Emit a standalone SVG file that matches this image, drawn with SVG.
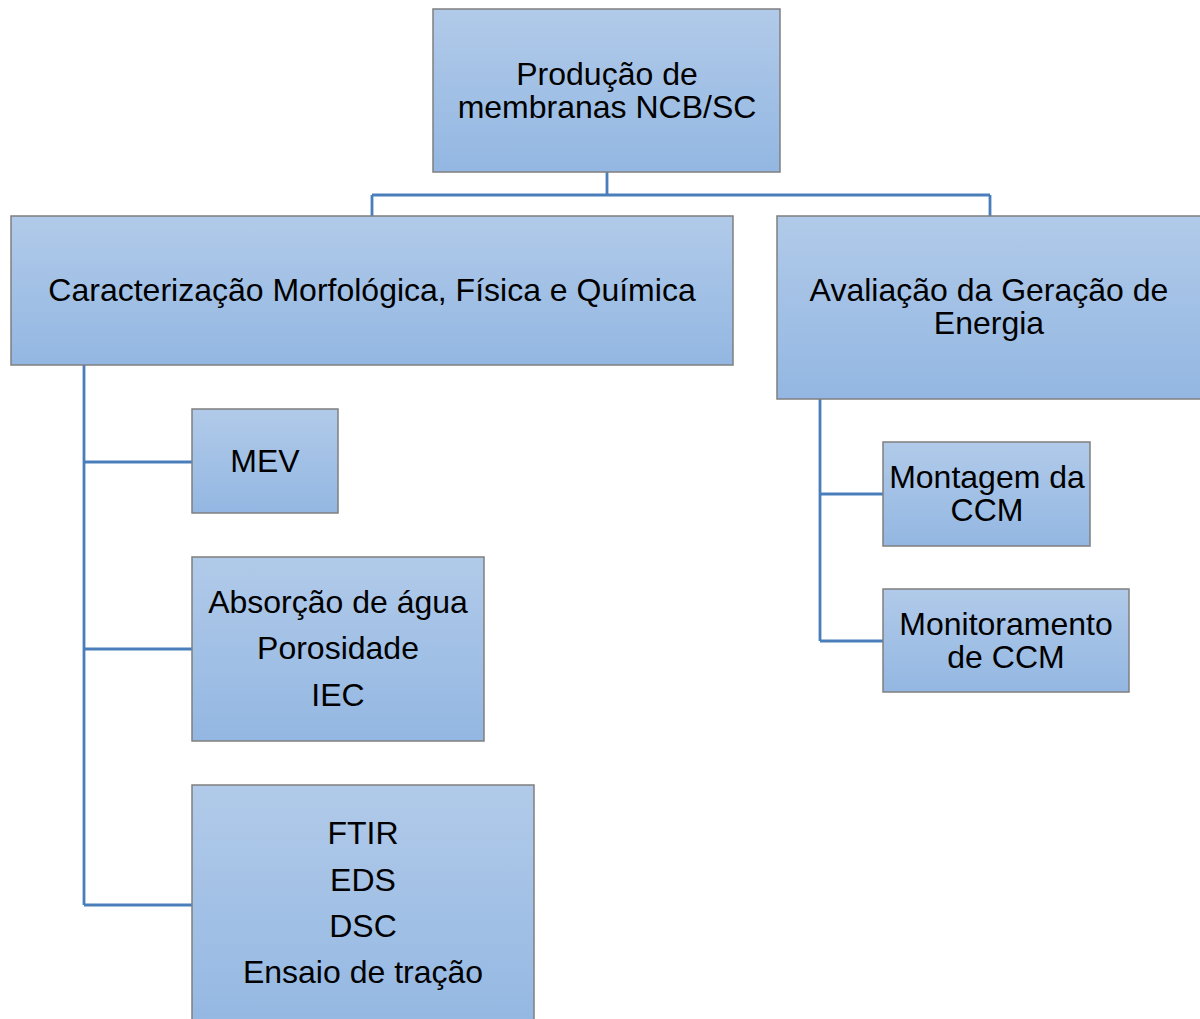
<svg xmlns="http://www.w3.org/2000/svg" width="1200" height="1019" viewBox="0 0 1200 1019">
<defs>
<linearGradient id="g" x1="0" y1="0" x2="0" y2="1">
<stop offset="0" stop-color="#b1cae9"/>
<stop offset="1" stop-color="#93b7e2"/>
</linearGradient>
<style>
.box{fill:url(#g);stroke:#7f7f7f;stroke-width:1.5}
.t{font-family:"Liberation Sans",Arial,sans-serif;font-size:32px;fill:#000;text-anchor:middle}
.c{fill:none;stroke:#4a7ebb;stroke-width:2.8}
</style>
</defs>
<rect width="1200" height="1019" fill="#fff"/>
<g id="connectors">
<path class="c" d="M607 172V195M372 195H990M372 195V216M990 195V216"/>
<path class="c" d="M84 365V905M84 462H192M84 649H192M84 905H192"/>
<path class="c" d="M820 399V641M820 494H883M820 641H883"/>
</g>
<g id="root">
<rect class="box" x="433" y="9" width="347" height="163"/>
<text class="t" x="607" y="85">Produção de</text>
<text class="t" x="607" y="118">membranas NCB/SC</text>
</g>
<g id="caracterizacao">
<rect class="box" x="11" y="216" width="722" height="149"/>
<text class="t" x="372" y="301">Caracterização Morfológica, Física e Química</text>
</g>
<g id="avaliacao">
<rect class="box" x="777" y="216" width="430" height="183"/>
<text class="t" x="989" y="301">Avaliação da Geração de</text>
<text class="t" x="989" y="334">Energia</text>
</g>
<g id="mev">
<rect class="box" x="192" y="409" width="146" height="104"/>
<text class="t" x="265" y="472">MEV</text>
</g>
<g id="absorcao">
<rect class="box" x="192" y="557" width="292" height="184"/>
<text class="t" x="338" y="613">Absorção de água</text>
<text class="t" x="338" y="659">Porosidade</text>
<text class="t" x="338" y="706">IEC</text>
</g>
<g id="ftir">
<rect class="box" x="192" y="785" width="342" height="250"/>
<text class="t" x="363" y="844">FTIR</text>
<text class="t" x="363" y="891">EDS</text>
<text class="t" x="363" y="937">DSC</text>
<text class="t" x="363" y="983">Ensaio de tração</text>
</g>
<g id="montagem">
<rect class="box" x="883" y="442" width="207" height="104"/>
<text class="t" x="987" y="488">Montagem da</text>
<text class="t" x="987" y="521">CCM</text>
</g>
<g id="monitoramento">
<rect class="box" x="883" y="589" width="246" height="103"/>
<text class="t" x="1006" y="635">Monitoramento</text>
<text class="t" x="1006" y="668">de CCM</text>
</g>
</svg>
